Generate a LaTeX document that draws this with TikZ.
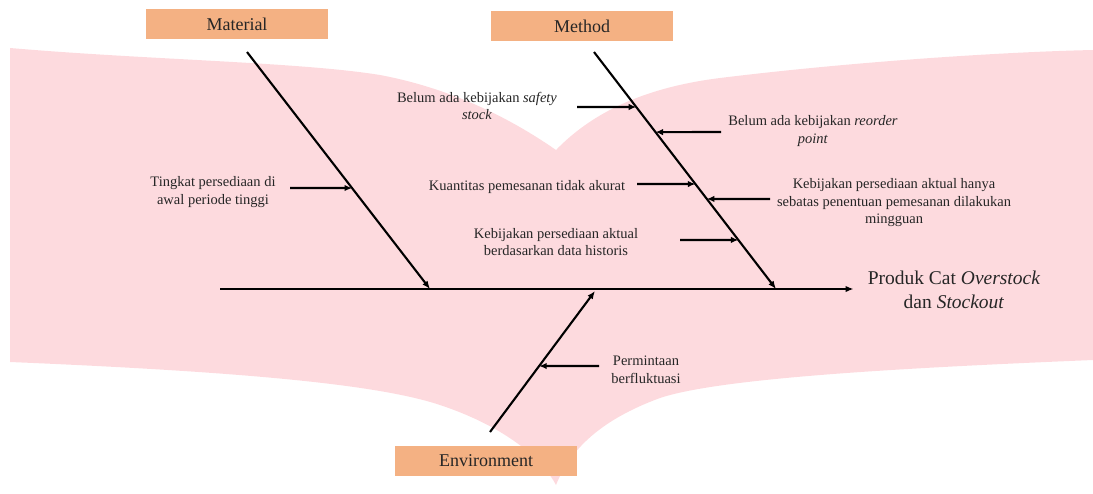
\documentclass[tikz,border=0pt]{standalone}
\usepackage{fontspec}
\setmainfont{Liberation Serif}
\usetikzlibrary{arrows.meta,positioning,calc}
\definecolor{fishpink}{RGB}{253,218,222}
\definecolor{catorange}{RGB}{244,177,131}
\definecolor{inkgray}{RGB}{38,38,38}

\begin{document}
\begin{tikzpicture}[x=1pt, y=-1pt,
cat/.style={fill=catorange, minimum width=182pt, minimum height=30pt, inner sep=0pt, font=\fontsize{18}{21}\selectfont, text=inkgray},
cause/.style={align=center, inner sep=0pt, font=\fontsize{14.5}{17.5}\selectfont, text=inkgray},
bone/.style={line width=2.1pt, -{Latex[length=8pt,width=6.5pt]}},
arrow/.style={line width=2.1pt, -{Latex[length=7.5pt,width=6.5pt]}}
]
\useasboundingbox (0,0) rectangle (1093,493);
% background band
\fill[fishpink] (10,48) .. controls (150,60) and (300,62) .. (380,75)
  .. controls (460,90) and (520,125) .. (556,150)
  .. controls (590,115) and (640,88) .. (720,78)
  .. controls (850,62) and (1000,52) .. (1093,50) -- (1093,360)
  .. controls (900,368) and (720,378) .. (660,398)
  .. controls (600,420) and (570,450) .. (556,485)
  .. controls (540,455) and (500,425) .. (440,405)
  .. controls (380,385) and (250,372) .. (10,362) -- cycle;

% categories
\node[cat] (material) at (237,24) {Material};
\node[cat] (method) at (582,26) {Method};
\node[cat] (environment) at (486,461) {Environment};

% effect
\node[align=center, inner sep=0pt, font=\fontsize{19.5}{24}\selectfont, text=inkgray] (effect) at (954,290)
  {Produk Cat \textit{Overstock}\\dan \textit{Stockout}};

% spine and bones
\coordinate (tail) at (220,289);
\draw[bone, shorten >=14pt] (tail) -- (tail -| effect.west);
\coordinate (matTop) at (247,52);
\coordinate (matEnd) at (430,289);
\draw[bone] (matTop) -- (matEnd);
\coordinate (mtdTop) at (594,52);
\coordinate (mtdEnd) at (776,289);
\draw[bone] (mtdTop) -- (mtdEnd);
\coordinate (envBot) at (490,432);
\coordinate (envEnd) at (595,291);
\draw[bone] (envBot) -- (envEnd);

% causes
\node[cause] (lblMat) at (213,192) {Tingkat persediaan di\\awal periode tinggi};
\node[cause] (lblSafety) at (477,106) {Belum ada kebijakan \textit{safety}\\\textit{stock}};
\node[cause] (lblReorder) at (813,131) {Belum ada kebijakan \textit{reorder}\\\textit{point}};
\node[cause] (lblQty) at (527,187) {Kuantitas pemesanan tidak akurat};
\node[cause] (lblWeekly) at (894,203) {Kebijakan persediaan aktual hanya\\sebatas penentuan pemesanan dilakukan\\mingguan};
\node[cause] (lblHist) at (556,242) {Kebijakan persediaan aktual\\berdasarkan data historis};
\node[cause] (lblDemand) at (646,370) {Permintaan\\berfluktuasi};

\path (matTop) -- (matEnd) coordinate[pos=0.574] (matHit);
\path (mtdTop) -- (mtdEnd) coordinate[pos=0.232] (safetyHit)
  coordinate[pos=0.338] (reorderHit) coordinate[pos=0.557] (qtyHit)
  coordinate[pos=0.620] (weeklyHit) coordinate[pos=0.793] (histHit);
\path (envBot) -- (envEnd) coordinate[pos=0.468] (demandHit);

\coordinate (matIn) at (290,188);
\coordinate (safetyIn) at (577,107);
\coordinate (reorderIn) at (721,132);
\coordinate (qtyIn) at (637,184);
\coordinate (weeklyIn) at (770,199);
\coordinate (histIn) at (680,240);
\coordinate (demandIn) at (599,366);

\draw[arrow] (matIn) -- (matHit);
\draw[arrow] (safetyIn) -- (safetyHit);
\draw[arrow] (reorderIn) -- (reorderHit);
\draw[arrow] (qtyIn) -- (qtyHit);
\draw[arrow] (weeklyIn) -- (weeklyHit);
\draw[arrow] (histIn) -- (histHit);
\draw[arrow] (demandIn) -- (demandHit);
\end{tikzpicture}
\end{document}
